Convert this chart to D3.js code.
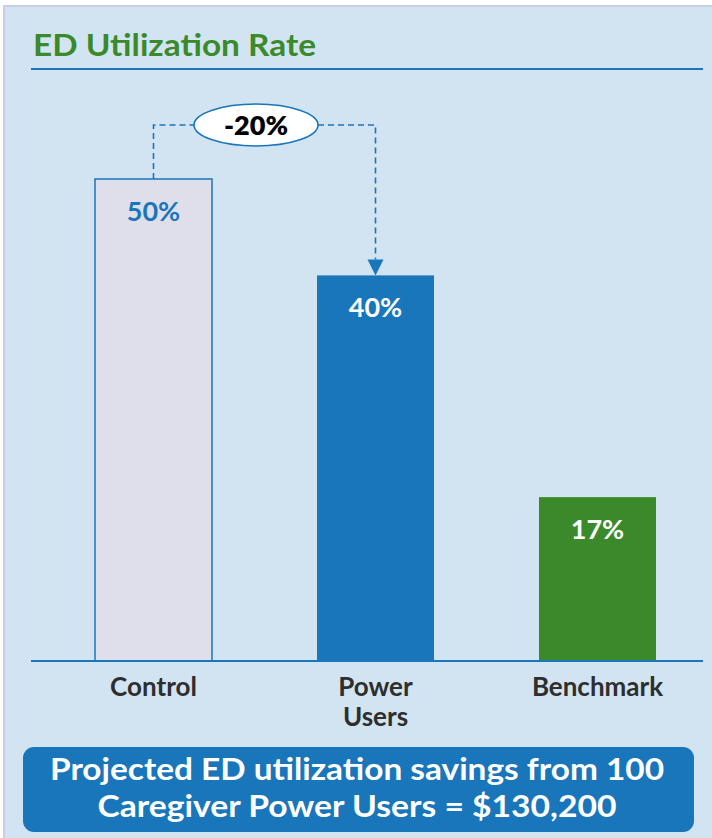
<!DOCTYPE html>
<html><head><meta charset="utf-8">
<script src="https://cdn.jsdelivr.net/npm/d3@7"></script>
<style>html,body{margin:0;padding:0;background:#fff;}svg{display:block;font-family:Lato,"Noto Sans",sans-serif;}</style>
</head><body>
<script>
const categories = ["Control", "Power Users", "Benchmark"];
const categoryLines = [["Control"], ["Power", "Users"], ["Benchmark"]];
const values = [50, 40, 17];
const valueLabels = ["50%", "40%", "17%"];
const changeLabel = "-20%";
const titleText = "ED Utilization Rate";
const footerLines = ["Projected ED utilization savings from 100", "Caregiver Power Users = $130,200"];

const W = 712, H = 838;
const BLUE = "#1a76bb", GREEN = "#3a8a2b", CTRL = "#dedfeb", PANEL = "#d2e4f2", DARK = "#2e2e2e";
const svg = d3.select("body").append("svg").attr("width", W).attr("height", H);

svg.append("rect").attr("x", 4).attr("y", 6).attr("width", W + 10).attr("height", H + 10)
  .attr("fill", PANEL).attr("stroke", "#c6cee8").attr("stroke-width", 2);

function fit(sel, w) {
  const bb = sel.node().getComputedTextLength();
  if (Math.abs(bb - w) > 2) sel.attr("textLength", w).attr("lengthAdjust", "spacingAndGlyphs");
  return sel;
}

const title = svg.append("text").attr("x", 33).attr("y", 56).attr("fill", GREEN)
  .attr("font-weight", 700).attr("font-size", 31).text(titleText);
fit(title, 283);
svg.append("line").attr("x1", 31).attr("x2", 703).attr("y1", 69).attr("y2", 69)
  .attr("stroke", BLUE).attr("stroke-width", 2);

const x = d3.scaleBand().domain(categories).range([95, 656]).paddingInner(0.473).paddingOuter(0);
const y = d3.scaleLinear().domain([0, 50]).range([661, 179]);

const fills = [CTRL, BLUE, GREEN];
const bars = svg.append("g");
bars.selectAll("rect").data(values).join("rect")
  .attr("x", (d, i) => x(categories[i]))
  .attr("y", d => y(d))
  .attr("width", x.bandwidth())
  .attr("height", d => y(0) - y(d))
  .attr("fill", (d, i) => fills[i])
  .attr("stroke", (d, i) => i === 0 ? BLUE : "none")
  .attr("stroke-width", 1.5);

svg.append("line").attr("x1", 31).attr("x2", 703).attr("y1", y(0)).attr("y2", y(0))
  .attr("stroke", BLUE).attr("stroke-width", 2);

bars.selectAll("text.val").data(values).join("text").attr("class", "val")
  .attr("x", (d, i) => x(categories[i]) + x.bandwidth() / 2)
  .attr("y", d => y(d) + 42)
  .attr("text-anchor", "middle").attr("font-weight", 700).attr("font-size", 27)
  .attr("fill", (d, i) => i === 0 ? BLUE : "#fff")
  .text((d, i) => valueLabels[i]);

categoryLines.forEach((lines, i) => {
  lines.forEach((t, j) => {
    svg.append("text").attr("x", x(categories[i]) + x.bandwidth() / 2).attr("y", 696 + j * 30)
      .attr("text-anchor", "middle").attr("font-weight", 700).attr("font-size", 26)
      .attr("fill", DARK).text(t);
  });
});

const cx0 = x(categories[0]) + x.bandwidth() / 2, cx1 = x(categories[1]) + x.bandwidth() / 2;
const ay = 125, ex = 256, erx = 62, ery = 21, ah = 16, aw = 8;
const dash = { "stroke": BLUE, "stroke-width": 1.6, "stroke-dasharray": "6,4", "fill": "none" };
const p1 = svg.append("path").attr("d", `M${cx0},${y(values[0])}V${ay}H${ex - erx}`);
const p2 = svg.append("path").attr("d", `M${ex + erx},${ay}H${cx1}V${y(values[1]) - ah}`);
[p1, p2].forEach(p => Object.entries(dash).forEach(([k, v]) => p.attr(k, v)));
svg.append("path").attr("d", `M${cx1 - aw},${y(values[1]) - ah}L${cx1 + aw},${y(values[1]) - ah}L${cx1},${y(values[1])}Z`)
  .attr("fill", BLUE);
svg.append("ellipse").attr("cx", ex).attr("cy", ay).attr("rx", erx).attr("ry", ery)
  .attr("fill", "#fff").attr("stroke", BLUE).attr("stroke-width", 1.6);
svg.append("text").attr("x", ex).attr("y", ay + 10).attr("text-anchor", "middle")
  .attr("font-weight", 800).attr("font-size", 27).attr("fill", "#000").text(changeLabel);

svg.append("rect").attr("x", 23).attr("y", 747).attr("width", 671).attr("height", 85).attr("rx", 11)
  .attr("fill", BLUE);
footerLines.forEach((t, i) => {
  const tx = svg.append("text").attr("x", 357).attr("y", 780 + i * 37).attr("text-anchor", "middle")
    .attr("font-weight", 700).attr("font-size", 30).attr("fill", "#fff").text(t);
  fit(tx, i === 0 ? 614 : 519);
});
</script>
</body></html>
